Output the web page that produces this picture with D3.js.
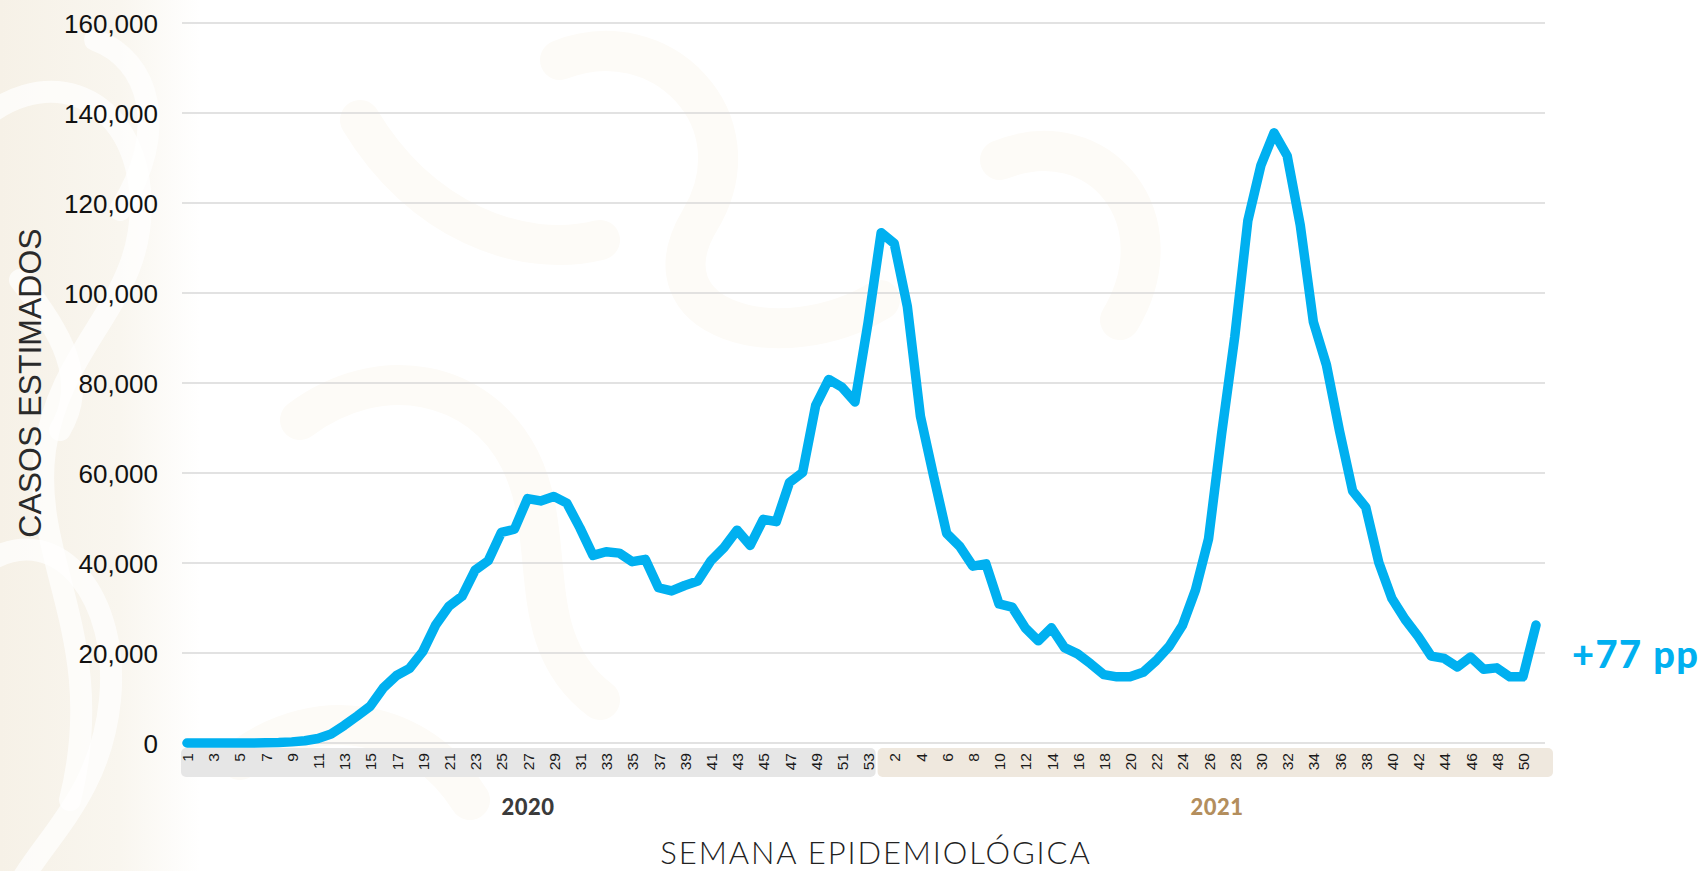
<!DOCTYPE html>
<html>
<head>
<meta charset="utf-8">
<script src="https://cdn.jsdelivr.net/npm/d3@7"></script>
<style>
  html, body { margin: 0; padding: 0; background: #ffffff; }
  svg { display: block; }
</style>
</head>
<body>
<svg id="chart" width="1708" height="871"></svg>
<script>
// ---------------- DATA ----------------
const weeks2020 = d3.range(1, 54);   // semanas 1..53 de 2020
const weeks2021 = d3.range(1, 52);   // semanas 1..51 de 2021

const cases2020 = [
  0, 0, 0, 0, 0, 0, 50, 100, 250, 500,
  1000, 2000, 3900, 6000, 8200, 12300, 15000, 16600, 20300, 26300,
  30400, 32600, 38400, 40500, 46800, 47500, 54300, 53800, 54800, 53300,
  47800, 41700, 42500, 42200, 40300, 40800, 34500, 33800, 35000, 36000,
  40500, 43400, 47300, 43900, 49700, 49200, 57900, 60100, 75000, 80800,
  79100, 75800, 93400
];
const cases2021 = [
  113400, 111000, 97000, 72600, 59400, 46600, 43700, 39300, 39800, 30900,
  30200, 25600, 22700, 25600, 21200, 19800, 17600, 15200, 14700, 14700,
  15700, 18300, 21500, 26100, 34000, 45400, 68800, 90300, 116100, 128400,
  135600, 130500, 115100, 93600, 84000, 69300, 56000, 52400, 40100, 32100,
  27500, 23700, 19300, 18800, 16900, 19100, 16400, 16700, 14700, 14700,
  26200
];

const yTicks = [0, 20000, 40000, 60000, 80000, 100000, 120000, 140000, 160000];
const yearLabels = ["2020", "2021"];
const yTitle = "CASOS ESTIMADOS";
const xTitle = "SEMANA EPIDEMIOLÓGICA";
const changeLabel = "+77 pp";

// ---------------- BUILD ----------------
const points = [
  ...weeks2020.map((w, i) => ({ year: 2020, week: w, key: "2020-" + w, value: cases2020[i] })),
  ...weeks2021.map((w, i) => ({ year: 2021, week: w, key: "2021-" + w, value: cases2021[i] }))
];

const svg = d3.select("#chart");
const W = 1708, H = 871;
const plotLeft = 182, plotRight = 1545, plotTop = 23, plotBottom = 743;

// ---------- faint background ornament ----------
const defs = svg.append("defs");
const grad = defs.append("linearGradient").attr("id", "leftTint")
  .attr("x1", 0).attr("x2", 1).attr("y1", 0).attr("y2", 0);
grad.append("stop").attr("offset", 0).attr("stop-color", "#f6f1e7");
grad.append("stop").attr("offset", 0.6).attr("stop-color", "#f9f6ef");
grad.append("stop").attr("offset", 1).attr("stop-color", "#ffffff");
svg.append("rect").attr("x", 0).attr("y", 0).attr("width", 200).attr("height", H)
  .attr("fill", "url(#leftTint)");

const bg = svg.append("g").attr("fill", "none").attr("stroke-linecap", "round");
const whitePaths = [
  "M -30 130 C 40 60, 130 90, 140 190 C 150 300, 60 340, 45 450 C 30 560, 110 640, 70 800",
  "M 95 40 C 150 60, 170 130, 120 210",
  "M -10 560 C 60 520, 120 600, 110 700 C 100 800, 40 840, 10 900",
  "M 20 280 C 60 330, 90 380, 60 430"
];
bg.selectAll("path.w").data(whitePaths).join("path")
  .attr("class", "w")
  .attr("d", d => d)
  .attr("stroke", "#ffffff")
  .attr("stroke-width", 22)
  .attr("opacity", 0.7);
const tintPaths = [
  "M 300 420 C 380 360, 480 380, 520 460 C 560 540, 520 640, 600 700",
  "M 560 60 C 660 20, 760 120, 700 220 C 640 320, 780 360, 880 300",
  "M 1000 160 C 1100 120, 1180 220, 1120 320",
  "M 240 760 C 320 700, 420 720, 470 800",
  "M 360 120 C 420 220, 520 260, 600 240"
];
bg.selectAll("path.t").data(tintPaths).join("path")
  .attr("class", "t")
  .attr("d", d => d)
  .attr("stroke", "#fdfbf7")
  .attr("stroke-width", 40);

// ---------- scales ----------
const x = d3.scalePoint()
  .domain(points.map(d => d.key))
  .range([187, 1536]);

const y = d3.scaleLinear()
  .domain([0, 160000])
  .range([plotBottom, plotTop]);

// ---------- grid ----------
svg.append("g")
  .selectAll("line")
  .data(yTicks)
  .join("line")
  .attr("x1", plotLeft)
  .attr("x2", plotRight)
  .attr("y1", d => y(d))
  .attr("y2", d => y(d))
  .attr("stroke", "#d9d9d9")
  .attr("stroke-width", 1.5);

// ---------- y axis ----------
const yAxis = d3.axisLeft(y)
  .tickValues(yTicks)
  .tickSize(0)
  .tickPadding(0)
  .tickFormat(d3.format(","));
const gy = svg.append("g")
  .attr("transform", `translate(158,0)`)
  .call(yAxis);
gy.select(".domain").remove();
gy.selectAll("text")
  .attr("font-family", "'Liberation Sans', Arial, sans-serif")
  .attr("font-size", 26)
  .attr("fill", "#111")
  .attr("dy", "0.36em");

// ---------- category bands ----------
const k2020last = "2020-53", k2021first = "2021-1";
const split = (x(k2020last) + x(k2021first)) / 2 + 2;
svg.append("rect")
  .attr("x", 181).attr("y", 748)
  .attr("width", split - 181 - 1).attr("height", 29)
  .attr("rx", 5)
  .attr("fill", "#e6e6e6");
svg.append("rect")
  .attr("x", split + 1).attr("y", 748)
  .attr("width", 1553 - split - 1).attr("height", 29)
  .attr("rx", 5)
  .attr("fill", "#efe8de");

// ---------- x axis ----------
const shownKeys = points.filter((d, i) => i % 2 === 0).map(d => d.key);
const weekOf = new Map(points.map(d => [d.key, d.week]));
const xAxis = d3.axisBottom(x)
  .tickValues(shownKeys)
  .tickSize(0)
  .tickPadding(0)
  .tickFormat(k => weekOf.get(k));
const gx = svg.append("g")
  .attr("transform", `translate(0,753)`)
  .call(xAxis);
gx.select(".domain").remove();
gx.selectAll("text")
  .attr("font-family", "'Liberation Sans', Arial, sans-serif")
  .attr("font-size", 15.5)
  .attr("fill", "#1a1a1a")
  .attr("text-anchor", "end")
  .attr("transform", "rotate(-90)")
  .attr("x", 0)
  .attr("y", 0)
  .attr("dy", "0.36em");

// ---------- line ----------
const line = d3.line()
  .x(d => x(d.key))
  .y(d => y(d.value));
svg.append("path")
  .datum(points)
  .attr("d", line)
  .attr("fill", "none")
  .attr("stroke", "#00b0f0")
  .attr("stroke-width", 9.5)
  .attr("stroke-linejoin", "round")
  .attr("stroke-linecap", "round");

// ---------- year labels ----------
svg.append("text")
  .attr("x", 528).attr("y", 815)
  .attr("text-anchor", "middle")
  .attr("font-family", "Lato, 'Open Sans', sans-serif")
  .attr("font-weight", 900)
  .attr("font-size", 22)
  .attr("letter-spacing", 0.5)
  .attr("fill", "#3b3b3b")
  .text(yearLabels[0]);
svg.append("text")
  .attr("x", 1217).attr("y", 815)
  .attr("text-anchor", "middle")
  .attr("font-family", "Lato, 'Open Sans', sans-serif")
  .attr("font-weight", 900)
  .attr("font-size", 22)
  .attr("letter-spacing", 0.5)
  .attr("fill", "#b38e5d")
  .text(yearLabels[1]);

// ---------- axis titles ----------
svg.append("text")
  .attr("transform", `translate(41,${(plotTop + plotBottom) / 2}) rotate(-90)`)
  .attr("text-anchor", "middle")
  .attr("font-family", "'Liberation Sans', Arial, sans-serif")
  .attr("font-size", 32)
  .attr("fill", "#2a2a2a")
  .text(yTitle);

svg.append("text")
  .attr("x", 876).attr("y", 864)
  .attr("text-anchor", "middle")
  .attr("font-family", "Lato, sans-serif")
  .attr("font-weight", 300)
  .attr("font-size", 31)
  .attr("letter-spacing", 1.9)
  .attr("fill", "#222")
  .text(xTitle);

// ---------- change annotation ----------
svg.append("text")
  .attr("x", 1572).attr("y", 668)
  .attr("font-family", "Lato, 'Open Sans', sans-serif")
  .attr("font-weight", 900)
  .attr("font-size", 38)
  .attr("letter-spacing", 1.5)
  .attr("fill", "#00b0f0")
  .text(changeLabel);
</script>
</body>
</html>
